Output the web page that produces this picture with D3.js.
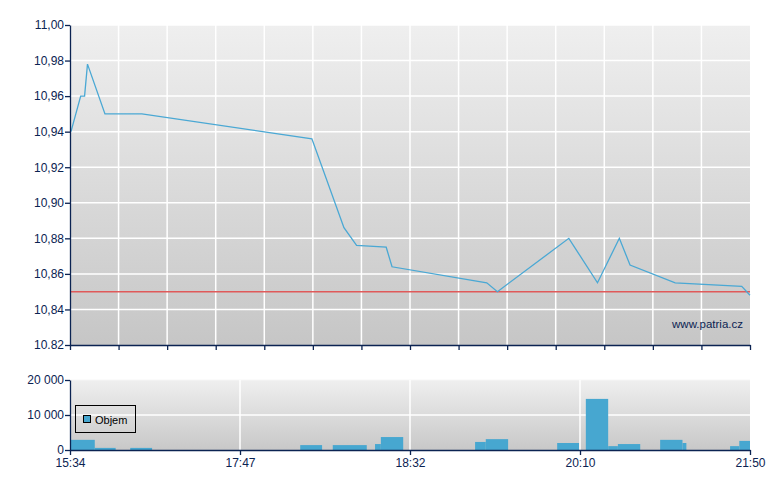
<!DOCTYPE html>
<html><head><meta charset="utf-8">
<script src="https://cdn.jsdelivr.net/npm/d3@7"></script>
<style>body{margin:0;background:#fff}svg{display:block}text{font-family:"Liberation Sans",Arial,sans-serif}</style>
</head><body><svg id="c" width="780" height="490"></svg>
<script>
// x positions are in sequence units (0..140) along the trading session
const priceX = [0.2, 2.2, 3.0, 3.6, 7.2, 14.8, 49.8, 56.4, 59.0, 65.1, 66.3, 85.8, 88.0, 102.7, 108.6, 113.1, 115.3, 124.6, 138.3, 140];
const priceY = [10.94, 10.96, 10.96, 10.978, 10.95, 10.95, 10.936, 10.886, 10.876, 10.875, 10.864, 10.855, 10.850, 10.880, 10.855, 10.880, 10.865, 10.855, 10.853, 10.848];
const refPrice = 10.85;
const yTicks = [10.82, 10.84, 10.86, 10.88, 10.90, 10.92, 10.94, 10.96, 10.98, 11.00];
const yTickLabels = ["10.82", "10,84", "10,86", "10,88", "10,90", "10,92", "10,94", "10,96", "10,98", "11,00"];
const volStart = [0.2, 5.1, 12.4, 47.4, 54.1, 62.8, 64.0, 83.4, 85.6, 100.3, 106.2, 110.8, 112.8, 121.5, 126.1, 135.9, 137.8];
const volEnd   = [5.1, 9.4, 16.9, 51.9, 61.1, 64.0, 68.6, 85.6, 90.2, 104.8, 110.8, 112.8, 117.4, 126.1, 126.9, 137.8, 140];
const volValue = [2900, 600, 600, 1400, 1400, 1700, 3700, 2300, 3100, 2000, 14600, 1100, 1700, 2900, 2000, 1100, 2600];
const volTicks = [0, 10000, 20000];
const volTickLabels = ["0", "10 000", "20 000"];
const timeTicks = [0, 35, 70, 105, 140];
const timeLabels = ["15:34", "17:47", "18:32", "20:10", "21:50"];
const mainGridX = d3.range(0, 141, 10);

const svg = d3.select("#c");
const axisCol = "#0b2352";
const L = 70, R = 750;
const x = d3.scaleLinear().domain([0, 140]).range([L, R]);
const y = d3.scaleLinear().domain([10.82, 11.00]).range([345, 25]);
const yv = d3.scaleLinear().domain([0, 20000]).range([450, 380]);

const defs = svg.append("defs");
const g1 = defs.append("linearGradient").attr("id", "bg").attr("x1", 0).attr("y1", 0).attr("x2", 0).attr("y2", 1);
g1.append("stop").attr("offset", "0%").attr("stop-color", "#efefef");
g1.append("stop").attr("offset", "100%").attr("stop-color", "#c6c6c6");
const g2 = defs.append("linearGradient").attr("id", "bg2").attr("x1", 0).attr("y1", 0).attr("x2", 0).attr("y2", 1);
g2.append("stop").attr("offset", "0%").attr("stop-color", "#efefef");
g2.append("stop").attr("offset", "100%").attr("stop-color", "#c8c8c8");

// main panel
svg.append("rect").attr("x", L).attr("y", y(11.00)).attr("width", R - L).attr("height", y(10.82) - y(11.00)).attr("fill", "url(#bg)");
svg.append("g").selectAll("line").data(yTicks.slice(1)).join("line")
  .attr("x1", L).attr("x2", R).attr("y1", d => y(d)).attr("y2", d => y(d))
  .attr("stroke", "#fff").attr("stroke-width", 1.5);
svg.append("g").selectAll("line").data(mainGridX.slice(1, -1)).join("line")
  .attr("x1", d => x(d)).attr("x2", d => x(d)).attr("y1", y(11.00)).attr("y2", y(10.82))
  .attr("stroke", "#fff").attr("stroke-width", 1.5);

svg.append("line").attr("x1", L).attr("x2", R).attr("y1", y(refPrice)).attr("y2", y(refPrice))
  .attr("stroke", "#e05a5a").attr("stroke-width", 1.5);

const pts = priceX.map((d, i) => [d, priceY[i]]);
svg.append("path").datum(pts)
  .attr("d", d3.line().x(d => x(d[0])).y(d => y(d[1])))
  .attr("fill", "none").attr("stroke", "#4aa8d4").attr("stroke-width", 1.3);

svg.append("text").attr("x", 743).attr("y", 328).attr("text-anchor", "end")
  .attr("font-size", 11.5).attr("fill", axisCol).text("www.patria.cz");

// main axes
const yAxis = svg.append("g").attr("transform", `translate(${L},0)`)
  .call(d3.axisLeft(y).tickValues(yTicks).tickFormat((d, i) => yTickLabels[i]).tickSize(5).tickSizeOuter(0));
const xAxisTop = svg.append("g").attr("transform", `translate(0,${y(10.82)})`)
  .call(d3.axisBottom(x).tickValues(mainGridX).tickFormat("").tickSize(5).tickSizeOuter(0));
[yAxis, xAxisTop].forEach(a => {
  a.selectAll("path,line").attr("stroke", axisCol).attr("stroke-width", 1.3);
  a.selectAll("text").attr("fill", axisCol).attr("font-size", 12).attr("font-family", "Liberation Sans, Arial, sans-serif");
});
yAxis.selectAll("text").attr("x", -6);

// volume panel
svg.append("rect").attr("x", L).attr("y", yv(20000)).attr("width", R - L).attr("height", yv(0) - yv(20000)).attr("fill", "url(#bg2)");
svg.append("line").attr("x1", L).attr("x2", R).attr("y1", yv(10000)).attr("y2", yv(10000)).attr("stroke", "#fff").attr("stroke-width", 1.5);
svg.append("line").attr("x1", L).attr("x2", R).attr("y1", yv(20000)).attr("y2", yv(20000)).attr("stroke", "#f6f6f6").attr("stroke-width", 1);
svg.append("g").selectAll("line").data(timeTicks.slice(1, -1)).join("line")
  .attr("x1", d => x(d)).attr("x2", d => x(d)).attr("y1", yv(20000)).attr("y2", yv(0))
  .attr("stroke", "#fff").attr("stroke-width", 1.5);

svg.append("g").selectAll("rect").data(volValue).join("rect")
  .attr("x", (d, i) => x(volStart[i])).attr("width", (d, i) => x(volEnd[i]) - x(volStart[i]))
  .attr("y", d => yv(d)).attr("height", d => yv(0) - yv(d))
  .attr("fill", "#47a7d0");

const yvAxis = svg.append("g").attr("transform", `translate(${L},0)`)
  .call(d3.axisLeft(yv).tickValues(volTicks).tickFormat((d, i) => volTickLabels[i]).tickSize(5).tickSizeOuter(0));
const xAxis = svg.append("g").attr("transform", `translate(0,${yv(0)})`)
  .call(d3.axisBottom(x).tickValues(timeTicks).tickFormat((d, i) => timeLabels[i]).tickSize(5).tickSizeOuter(0));
[yvAxis, xAxis].forEach(a => {
  a.selectAll("path,line").attr("stroke", axisCol).attr("stroke-width", 1.3);
  a.selectAll("text").attr("fill", axisCol).attr("font-size", 12).attr("font-family", "Liberation Sans, Arial, sans-serif");
});
yvAxis.selectAll("text").attr("x", -6).attr("dy", "0.28em");
xAxis.selectAll("text").attr("y", 8);

// legend
const lg = svg.append("g");
lg.append("rect").attr("x", 75.5).attr("y", 405.5).attr("width", 60).attr("height", 27).attr("fill", "none").attr("stroke", "#000").attr("stroke-width", 1);
lg.append("rect").attr("x", 83.5).attr("y", 415.5).attr("width", 7).attr("height", 7).attr("fill", "#47a7d0").attr("stroke", "#000").attr("stroke-width", 1);
lg.append("text").attr("x", 95).attr("y", 423.5).attr("font-size", 11).attr("fill", "#000").text("Objem");
</script></body></html>
